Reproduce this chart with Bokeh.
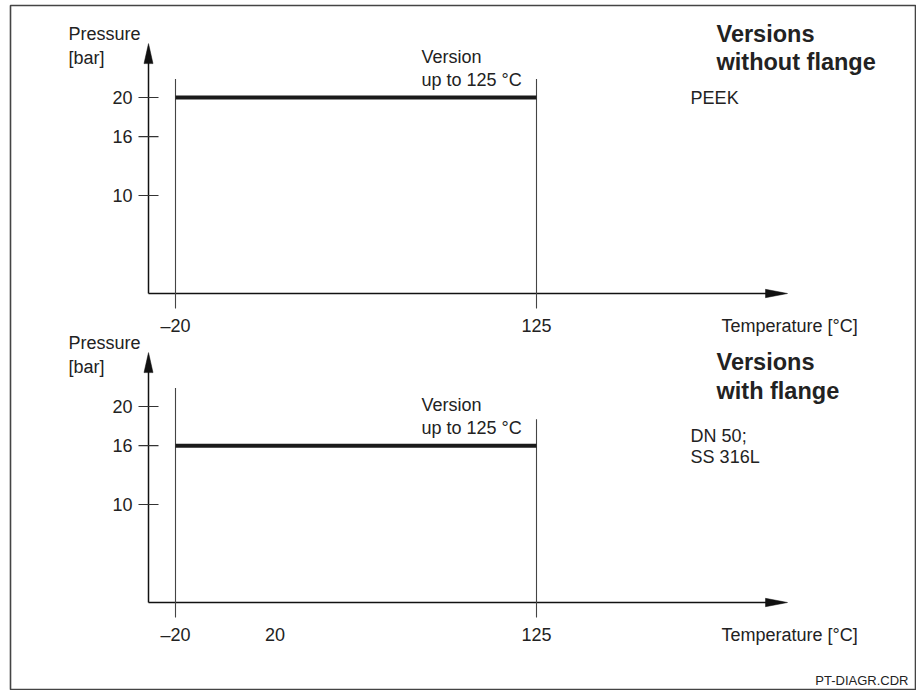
from bokeh.plotting import figure
from bokeh.models import Range1d
from bokeh.core.properties import value
from bokeh.embed import file_html
from bokeh.resources import INLINE

# ---------------- data ----------------
temperature_limits = [-20, 125]          # degC, operating range
upper_pressure = [20, 20]                # bar, versions without flange (PEEK)
lower_pressure = [16, 16]                # bar, versions with flange (DN 50; SS 316L)
pressure_ticks = [10, 16, 20]
pressure_tick_labels = ["10", "16", "20"]
upper_temp_ticks = [-20, 125]
upper_temp_labels = ["\u201320", "125"]
lower_temp_ticks = [-20, 20, 125]
lower_temp_labels = ["\u201320", "20", "125"]
drop_temps = [-20, 125]
upper_drop_tops = [21.9, 21.9]
lower_drop_tops = [21.9, 18.7]
upper_title = ["Versions", "without flange"]
lower_title = ["Versions", "with flange"]
upper_note = ["PEEK"]
lower_note = ["DN 50;", "SS 316L"]
version_text = ["Version", "up to 125 \u00b0C"]

# ---------------- layout ----------------
W, H = 916, 690
MB_L, MB_R, MB_T, MB_B = 10, 1, 5, 0
PX_T = 361.0 / 145.0      # px per degC
PX_P = 9.8                # px per bar
FRAME_W = W - MB_L - MB_R
FRAME_TOP, FRAME_BOT = MB_T, H - MB_B
x_start = -20 - (175 - MB_L) / PX_T
x_end = x_start + FRAME_W / PX_T

def prange(zero_page_y):
    return Range1d(-(FRAME_BOT - zero_page_y) / PX_P, (zero_page_y - FRAME_TOP) / PX_P)

AX_T = -20 - 27 / PX_T            # y-axis position (page x 148)
TIP_T = -20 + (787 - 175) / PX_T  # x-axis arrow tip
TIP_P = 25.5                      # y-axis arrow tip

FONT = value("Liberation Sans")
TXT = "#222222"

p = figure(width=W, height=H, output_backend="svg", toolbar_location=None,
           x_axis_type=None, y_axis_type=None,
           x_range=Range1d(x_start, x_end), y_range=prange(293),
           min_border_left=MB_L, min_border_right=MB_R, min_border_top=MB_T,
           min_border_bottom=MB_B,
           background_fill_color="white", border_fill_color="white",
           outline_line_color="#444444", outline_line_width=1.6)
p.extra_y_ranges = {"lower": prange(602)}

panels = [
    dict(rn="default", pressure=upper_pressure, tticks=upper_temp_ticks, tlabels=upper_temp_labels,
         drops=upper_drop_tops, title=upper_title, title_y=[26.5, 23.6],
         note=upper_note, note_y=[20.0]),
    dict(rn="lower", pressure=lower_pressure, tticks=lower_temp_ticks, tlabels=lower_temp_labels,
         drops=lower_drop_tops, title=lower_title, title_y=[24.5, 21.6],
         note=lower_note, note_y=[17.0, 14.8]),
]

for pn in panels:
    rn = pn["rn"]
    # axes
    p.line([AX_T, AX_T], [0, TIP_P - 5 / PX_P], y_range_name=rn, line_color="#111111", line_width=1.5)
    p.line([AX_T, TIP_T - 5 / PX_T], [0, 0], y_range_name=rn, line_color="#111111", line_width=1.5)
    hw = 4.5 / PX_T
    p.patches(xs=[[AX_T, AX_T - hw, AX_T + hw]],
              ys=[[TIP_P, TIP_P - 20 / PX_P, TIP_P - 20 / PX_P]],
              y_range_name=rn, fill_color="#111111", line_color="#111111", line_width=0.5)
    hh = 4.2 / PX_P
    p.patches(xs=[[TIP_T, TIP_T - 22 / PX_T, TIP_T - 22 / PX_T]],
              ys=[[0, hh, -hh]],
              y_range_name=rn, fill_color="#111111", line_color="#111111", line_width=0.5)
    # y ticks
    p.segment(x0=[AX_T - 10 / PX_T] * len(pressure_ticks), x1=[AX_T + 10 / PX_T] * len(pressure_ticks),
              y0=pressure_ticks, y1=pressure_ticks, y_range_name=rn, line_color="#333333", line_width=1.2)
    p.text(x=[AX_T] * len(pressure_ticks), y=pressure_ticks, text=pressure_tick_labels,
           x_offset=-16, y_range_name=rn, text_align="right", text_baseline="middle",
           text_font=FONT, text_font_size="18px", text_color=TXT)
    # pressure label
    p.text(x=[AX_T, AX_T], y=[TIP_P, TIP_P], text=["Pressure", "[bar]"], x_offset=-80,
           y_offset=[-10, 14], y_range_name=rn, text_align="left", text_baseline="middle",
           text_font=FONT, text_font_size="18px", text_color=TXT)
    # drop lines
    p.segment(x0=drop_temps, x1=drop_temps, y0=[-15 / PX_P] * len(drop_temps), y1=pn["drops"],
              y_range_name=rn, line_color="#444444", line_width=1.1)
    # pressure limit line
    p.line(temperature_limits, pn["pressure"], y_range_name=rn, line_color="#1a1a1a", line_width=4)
    # version text above line
    p.text(x=[78.8, 78.8], y=[pn["pressure"][0]] * 2, text=version_text, y_offset=[-41, -18],
           y_range_name=rn, text_align="left", text_baseline="middle",
           text_font=FONT, text_font_size="18px", text_color=TXT)
    # temperature tick labels
    p.text(x=pn["tticks"], y=[0] * len(pn["tticks"]), text=pn["tlabels"], y_offset=32,
           y_range_name=rn, text_align="center", text_baseline="middle",
           text_font=FONT, text_font_size="18px", text_color=TXT)
    p.text(x=[TIP_T], y=[0], text=["Temperature [\u00b0C]"], x_offset=-66, y_offset=32,
           y_range_name=rn, text_align="left", text_baseline="middle",
           text_font=FONT, text_font_size="18px", text_color=TXT)
    # titles
    p.text(x=[197.3] * 2, y=pn["title_y"], text=pn["title"], y_range_name=rn,
           text_align="left", text_baseline="middle", text_font=FONT, text_font_size="23.5px",
           text_font_style="bold", text_color=TXT)
    p.text(x=[186.9] * len(pn["note"]), y=pn["note_y"], text=pn["note"], y_range_name=rn,
           text_align="left", text_baseline="middle", text_font=FONT, text_font_size="18px",
           text_color=TXT)

p.text(x=[x_end], y=[-7.96], text=["PT-DIAGR.CDR"], x_offset=-7, y_range_name="lower",
       text_align="right", text_baseline="middle", text_font=FONT, text_font_size="13px",
       text_color=TXT)

open("out.html", "w").write(file_html(p, INLINE))
